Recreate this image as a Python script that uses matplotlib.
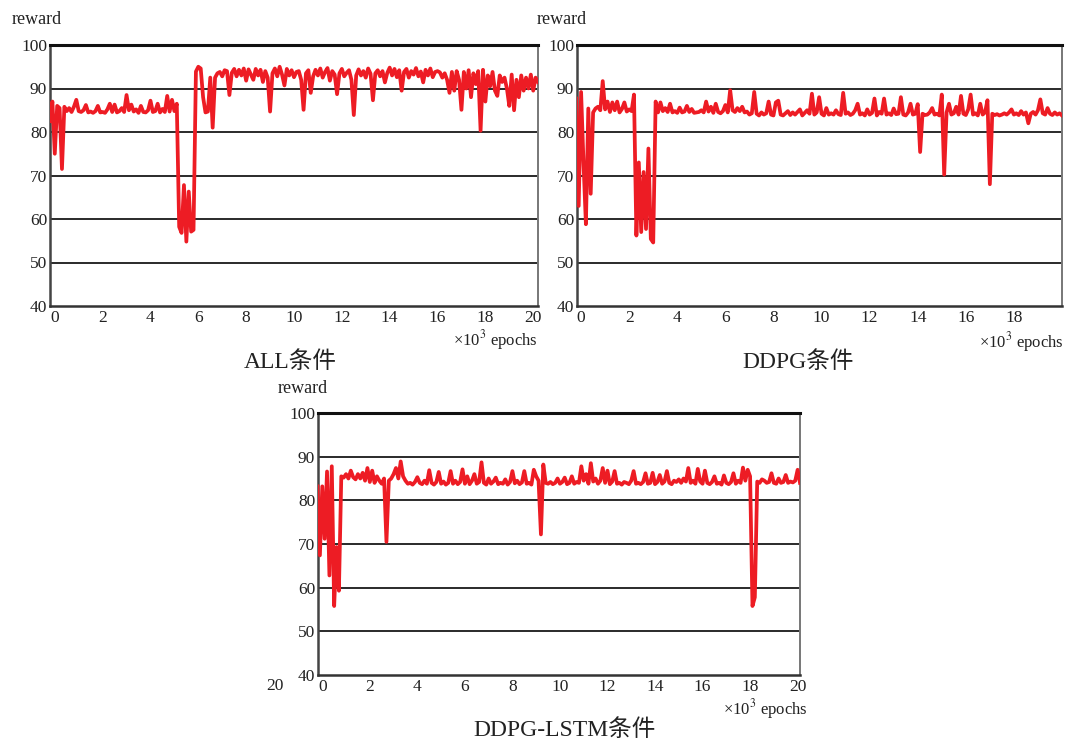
import numpy as np
import matplotlib
matplotlib.use("Agg")
import matplotlib.pyplot as plt

plt.rcParams["font.family"] = ["Liberation Serif", "Noto Sans CJK SC"]
plt.rcParams["mathtext.fontset"] = "stix"

all_reward = [
    82.5, 87.0, 75.0, 86.0, 85.5, 71.5, 85.8, 84.8, 85.5, 84.6,
    85.8, 87.4, 84.8, 84.6, 85.0, 86.2, 84.5, 84.7, 84.4, 84.8,
    86.0, 84.5, 84.6, 84.4, 85.2, 86.5, 84.6, 86.3, 84.5, 84.8,
    85.5, 84.6, 88.5, 85.0, 86.3, 84.7, 85.2, 84.4, 86.0, 84.6,
    84.5, 85.0, 87.2, 84.6, 84.8, 86.5, 84.5, 85.3, 84.6, 88.3,
    84.7, 87.4, 84.8, 86.5, 58.2, 56.8, 67.8, 54.8, 66.3, 57.1,
    57.5, 93.9, 95.0, 94.6, 88.0, 84.5, 84.7, 92.5, 81.0, 92.5,
    93.5, 93.8, 92.8, 94.2, 94.0, 88.5, 93.6, 94.5, 92.8, 94.3,
    93.0, 94.6, 91.8, 94.4, 93.2, 92.0, 94.5, 93.0, 94.3, 91.5,
    94.0, 92.5, 84.7, 93.5, 94.6, 92.8, 95.0, 93.2, 90.7, 94.5,
    93.0, 94.2, 92.6, 93.8, 94.0, 92.0, 85.1, 93.5, 94.2, 89.0,
    92.8, 94.3, 93.0, 94.6, 92.5, 93.8, 94.7, 91.8, 94.0, 93.2,
    88.7, 93.5, 94.5, 92.8, 93.6, 94.2, 92.0, 83.9, 93.0, 94.4,
    93.0, 94.0, 92.5, 94.6, 93.4, 87.3, 93.5, 94.2, 92.8, 94.0,
    91.4, 93.6, 94.8, 93.0, 94.5, 92.6, 94.2, 89.5, 93.8, 94.5,
    92.5, 94.0, 93.2, 94.7, 92.8, 93.9, 91.4, 94.3, 93.0, 94.6,
    92.6, 93.8, 94.0, 93.7, 92.5, 93.5, 92.0, 89.0, 93.8, 89.5,
    94.0, 92.0, 85.1, 93.8, 90.0, 94.2, 88.0, 93.5, 91.0, 94.0,
    80.3, 94.3, 87.0, 93.0, 90.5, 93.8, 89.5, 88.3, 93.0, 91.5,
    92.5, 90.0, 86.0, 93.2, 85.0, 92.0, 88.0, 93.0, 89.5, 92.5,
    90.0, 93.2, 89.5, 92.5, 91.5,
]

ddpg_reward = [
    87.7, 63.0, 89.2, 73.0, 58.8, 85.4, 65.8, 84.5, 85.4, 85.8,
    85.0, 91.7, 85.2, 87.0, 84.6, 86.8, 85.0, 87.0, 84.5, 85.3,
    86.8, 84.7, 85.2, 84.8, 88.6, 56.2, 73.0, 57.0, 70.8, 57.7,
    76.2, 55.4, 54.6, 87.0, 84.5, 86.8, 84.8, 85.5, 84.6, 86.5,
    84.5, 84.8, 84.4, 85.6, 84.5, 84.7, 86.0, 84.6, 85.3, 84.4,
    84.5, 84.6, 85.0, 84.5, 87.0, 84.7, 85.8, 84.4, 86.5, 84.6,
    84.3, 84.8, 86.2, 84.5, 89.6, 85.0, 84.6, 85.5, 84.8, 85.8,
    84.5, 84.7, 84.0, 84.3, 89.2, 84.2, 83.8, 84.5, 84.0, 84.3,
    87.0, 84.0, 83.8, 86.8, 87.2, 84.0, 83.8, 84.3, 84.8, 83.9,
    84.5, 84.0, 84.6, 85.2, 83.8, 84.4, 85.0, 84.2, 88.8, 84.0,
    84.5, 88.0, 84.2, 83.8, 85.5, 84.0, 84.3, 84.0, 85.0, 84.1,
    83.9, 89.0, 84.2, 84.5, 83.9, 84.2, 85.0, 86.5, 84.0, 84.3,
    83.8, 85.2, 84.0, 84.4, 87.7, 83.8, 84.6, 84.2, 87.7, 84.0,
    84.3, 83.9, 85.4, 84.1, 84.2, 88.0, 84.0, 83.8, 84.5, 86.5,
    84.0, 84.2, 86.4, 75.4, 84.2, 83.9, 84.0, 84.5, 85.5, 84.0,
    84.2, 83.8, 88.6, 70.2, 84.5, 86.5, 84.0, 84.3, 85.8, 84.0,
    88.3, 84.2, 83.9, 85.2, 88.6, 84.0, 84.3, 83.8, 86.5, 84.0,
    84.5, 87.3, 68.0, 84.2, 83.9, 84.1, 83.8, 84.0, 84.3, 84.0,
    84.5, 85.2, 84.0, 84.3, 83.9, 84.8, 84.0, 84.5, 82.0, 84.2,
    84.6, 84.0, 85.0, 87.5, 84.3, 84.0, 85.5, 84.2, 83.9, 84.5,
    84.0, 84.3, 83.8,
]

lstm_reward = [
    83.2, 67.4, 83.2, 71.2, 86.6, 62.8, 87.8, 55.8, 69.3, 59.3,
    85.5, 85.2, 86.0, 85.0, 86.8, 85.3, 84.8, 86.0, 85.0, 86.3,
    84.5, 87.4, 84.2, 86.8, 84.0, 85.5, 84.5, 83.8, 85.0, 70.5,
    84.5, 85.0, 86.0, 87.4, 85.0, 88.9, 85.5, 84.5, 83.8, 84.0,
    83.6, 84.2, 85.3, 84.0, 83.7, 84.5, 83.8, 86.9, 84.0, 83.6,
    84.2, 86.5, 83.8, 84.3, 83.6, 84.0, 86.7, 83.8, 84.5, 83.7,
    84.2, 87.1, 83.8, 85.5, 83.7, 84.5, 86.0, 83.8, 84.2, 88.7,
    84.0, 83.6, 85.0, 83.8, 84.3, 85.2, 83.7, 84.0, 83.8, 84.8,
    83.6, 84.2, 86.7, 83.9, 84.5, 83.7, 84.1, 86.7, 83.8, 84.0,
    83.6, 87.0, 85.5, 84.5, 72.2, 88.2, 84.0, 83.8, 84.2, 83.7,
    84.0, 85.0, 83.8, 84.2, 85.2, 83.7, 84.0, 85.5, 83.8, 84.2,
    84.0, 87.8, 84.5, 86.0, 83.8, 88.5, 84.3, 85.0, 83.8, 84.5,
    87.4, 84.0, 86.8, 83.7, 84.3, 86.7, 83.8, 84.0, 83.6, 84.2,
    84.0, 83.7, 84.5, 86.7, 83.8, 84.0, 83.7, 84.2, 86.2, 83.8,
    84.0, 86.3, 83.7, 84.2, 85.8, 83.8, 84.3, 86.7, 84.0, 83.7,
    84.5, 84.2, 84.8, 84.0, 85.0, 84.3, 87.4, 84.0, 84.5, 83.8,
    87.2, 84.3, 83.8, 86.8, 84.0, 83.7, 84.2, 85.5, 83.8, 84.0,
    83.6, 85.7, 84.0, 83.7, 84.2, 86.2, 83.8, 84.5, 84.0, 87.5,
    84.5, 87.0, 85.5, 55.8, 57.8, 84.3, 84.0, 84.8, 84.5, 84.0,
    84.2, 86.2, 84.0, 83.8, 85.0, 84.0, 84.2, 85.8, 84.0, 84.3,
    84.1, 84.5, 87.0, 84.0,
]

# sampling grid: first value at -0.2, step 0.1
all_epochs = np.arange(-2, -2 + len(all_reward)) / 10
ddpg_epochs = np.arange(-2, -2 + len(ddpg_reward)) / 10
lstm_epochs = np.arange(-2, -2 + len(lstm_reward)) / 10

y_ticks = [40, 50, 60, 70, 80, 90, 100]
titles = ["ALL条件", "DDPG条件", "DDPG-LSTM条件"]

RED = "#ed1c24"
W, H = 1067, 740


def ax_box(left, top, right, bottom):
    return [left / W, 1 - bottom / H, (right - left) / W, (bottom - top) / H]


def draw_panel(ax, x, y, xlim, xticks):
    ax.plot(x, y, color=RED, linewidth=2.7, solid_joinstyle="round", zorder=3)
    ax.set_xlim(*xlim)
    ax.set_ylim(40, 100)
    ax.set_yticks(y_ticks)
    ax.set_xticks(xticks)
    ax.set_xticklabels([str(t) for t in xticks])
    ax.tick_params(length=0, labelsize=12.5, colors="#222222")
    ax.tick_params(axis="x", pad=3)
    ax.tick_params(axis="y", pad=2)
    for v in y_ticks[1:-1]:
        ax.axhline(v, color="#2a2a2a", linewidth=1.4, zorder=1)
    ax.spines["top"].set_linewidth(2.2)
    ax.spines["top"].set_color("#111111")
    ax.spines["bottom"].set_linewidth(1.8)
    ax.spines["bottom"].set_color("#333333")
    ax.spines["left"].set_linewidth(1.8)
    ax.spines["left"].set_color("#444444")
    ax.spines["right"].set_linewidth(1.4)
    ax.spines["right"].set_color("#777777")


fig = plt.figure(figsize=(W / 100, H / 100), dpi=100)

ax1 = fig.add_axes(ax_box(50, 45, 538, 306))
draw_panel(ax1, all_epochs, all_reward, (-0.2, 20.2), list(range(0, 21, 2)))
ax2 = fig.add_axes(ax_box(577, 45, 1062, 306))
draw_panel(ax2, ddpg_epochs, ddpg_reward, (-0.17, 20.0), list(range(0, 19, 2)))
ax3 = fig.add_axes(ax_box(318, 413, 800, 675))
draw_panel(ax3, lstm_epochs, lstm_reward, (-0.18, 20.1), list(range(0, 21, 2)))


def fig_text(px, py, s, **kw):
    fig.text(px / W, 1 - py / H, s, **kw)


for px, py in [(12, 20), (537, 20), (278, 389)]:
    fig_text(px, py, "reward", fontsize=13, ha="left", va="center", color="#222222")

# x-axis unit label, sits just under the last tick labels
for px, py in [(538, 340), (1064, 342), (808, 709)]:
    fig_text(px, py, r"×10$^3$ epochs", fontsize=12, ha="right", va="center", color="#222222")

for (px, py), t in zip([(290, 362), (798, 362), (565, 730)], titles):
    fig_text(px, py, t, fontsize=17, ha="center", va="center", color="#222222")

fig_text(275, 686, "20", fontsize=12.5, ha="center", va="center", color="#222222")

fig.savefig("out.png", dpi=100)
